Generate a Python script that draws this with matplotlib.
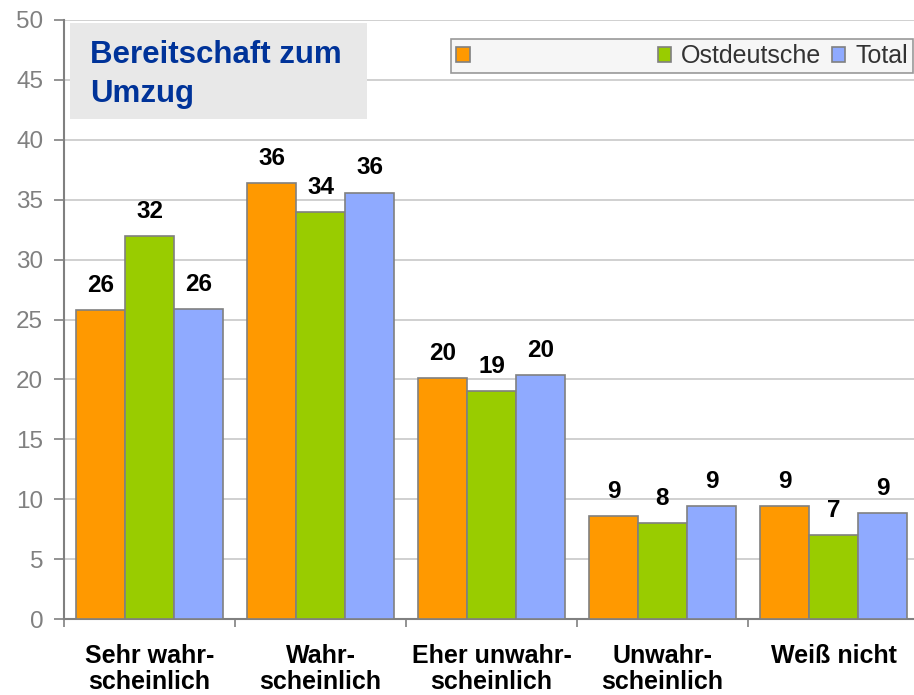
import matplotlib

matplotlib.use("Agg")
import matplotlib.pyplot as plt
import numpy as np
from matplotlib.patches import Rectangle

plt.rcParams["font.family"] = ["Liberation Sans", "DejaVu Sans"]

# data
categories = [
    "Sehr wahr-\nscheinlich",
    "Wahr-\nscheinlich",
    "Eher unwahr-\nscheinlich",
    "Unwahr-\nscheinlich",
    "Weiß nicht",
]
series_names = ["", "Ostdeutsche", "Total"]
group_a = [25.8, 36.4, 20.1, 8.6, 9.4]
ostdeutsche = [32.0, 34.0, 19.0, 8.0, 7.0]
total = [25.9, 35.6, 20.4, 9.4, 8.85]

colors = ["#FF9900", "#99CC00", "#8FAAFF"]
edge = "#808080"

W, H = 914, 695
fig = plt.figure(figsize=(W / 100, H / 100), dpi=100)
ax = fig.add_axes([64 / W, 76 / H, (919 - 64) / W, (619 - 20) / H])

x = np.arange(len(categories))
bw = 49 / 171
bars = []
for i, (vals, col) in enumerate(zip([group_a, ostdeutsche, total], colors)):
    b = ax.bar(x + (i - 1) * bw, vals, width=bw, color=col, edgecolor=edge,
               linewidth=1.2, zorder=3)
    bars.append(b)
    for xi, v in zip(x + (i - 1) * bw, vals):
        ax.annotate(f"{int(round(v))}", (xi, v), xytext=(0, 13),
                    textcoords="offset points", ha="center", va="baseline",
                    fontsize=17.5, fontweight="bold", color="black", zorder=4)

ax.set_xlim(-0.5, 4.5)
ax.set_ylim(0, 50)
ax.set_yticks(np.arange(0, 51, 5))
ax.yaxis.grid(True, color="#c8c8c8", linewidth=1.2, zorder=0)
ax.tick_params(axis="y", labelsize=17.5, labelcolor="#808080", color=edge,
               length=7, width=1.2, pad=8)

ax.set_xticks(np.arange(-0.5, 5, 1))
ax.set_xticklabels([])
ax.set_xticks(x, minor=True)
ax.set_xticklabels(categories, minor=True, fontsize=18, fontweight="bold",
                   linespacing=1.12)
ax.tick_params(axis="x", which="major", length=6, width=1.2, color=edge)
ax.tick_params(axis="x", which="minor", length=0, pad=18)

for s in ["top", "right"]:
    ax.spines[s].set_visible(False)
for s in ["left", "bottom"]:
    ax.spines[s].set_color(edge)
    ax.spines[s].set_linewidth(1.5)

# title box
fig.add_artist(Rectangle((70 / W, 1 - 119 / H), (367 - 70) / W, (119 - 23) / H,
                         transform=fig.transFigure, facecolor="#e8e8e8",
                         edgecolor="none", zorder=5))
for line, base in [("Bereitschaft zum", 63), ("Umzug", 102)]:
    fig.text(90 / W, 1 - base / H, line, fontsize=22.5, fontweight="bold",
             color="#003399", va="baseline", ha="left", zorder=6)

labels = [" " * 24] + series_names[1:]
leg = fig.legend(bars, labels, loc="upper right", ncol=3,
                 bbox_to_anchor=(913 / W, 1 - 39 / H), borderaxespad=0,
                 fontsize=18, frameon=True, fancybox=False,
                 handlelength=0.55, handleheight=0.55, handletextpad=0.4,
                 columnspacing=0.4, borderpad=0.2)
leg.get_frame().set_facecolor("#f4f4f4")
leg.get_frame().set_edgecolor(edge)
leg.get_frame().set_linewidth(1.2)
for t in leg.get_texts():
    t.set_color("#333333")

fig.savefig("out.png", dpi=100)
